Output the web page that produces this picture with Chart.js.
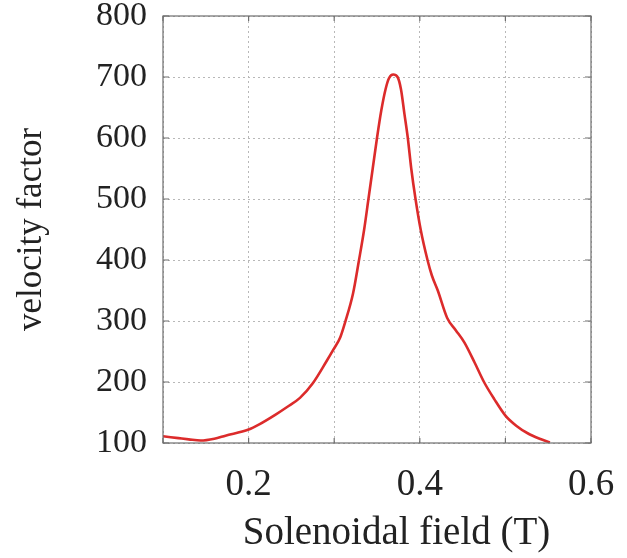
<!DOCTYPE html>
<html>
<head>
<meta charset="utf-8">
<script src="https://cdn.jsdelivr.net/npm/chart.js@4"></script>
<style>
  html, body { margin: 0; padding: 0; background: #fff; }
  #wrap { width: 627px; height: 558px; }
</style>
</head>
<body>
<div id="wrap"><canvas id="fieldChart" width="627" height="558"></canvas></div>
<script>
// solenoidal field (T) and velocity factor
const fieldT = [0.100, 0.118, 0.130, 0.144, 0.160, 0.173, 0.200, 0.213, 0.232, 0.245,
    0.260, 0.275, 0.291, 0.299, 0.307, 0.313, 0.322, 0.329, 0.335, 0.340,
    0.345, 0.350, 0.355, 0.360, 0.364, 0.369, 0.374, 0.378, 0.382, 0.386,
    0.390, 0.395, 0.401, 0.409, 0.414, 0.421, 0.432, 0.442, 0.452, 0.464,
    0.475, 0.487, 0.500, 0.513, 0.526, 0.540, 0.552];
const velocityFactor = [111, 108, 106, 104, 107, 112, 122, 131, 147, 159,
    174, 198, 234, 253, 273, 299, 345, 400, 450, 500,
    550, 600, 645, 680, 698, 704, 700, 680, 640, 600,
    550, 500, 450, 400, 375, 350, 305, 285, 265, 232,
    200, 172, 145, 128, 116, 107, 101];
const xTicks = [0.1, 0.2, 0.3, 0.4, 0.5, 0.6];
const xLabelled = [0.2, 0.4, 0.6];
const yTicks = [100, 200, 300, 400, 500, 600, 700, 800];

const serif = "'Liberation Serif', 'Times New Roman', serif";
const textColor = '#222';

// frame round the plot with small inward ticks, like the original
const framePlugin = {
    id: 'frame',
    afterDraw(chart) {
        const ctx = chart.ctx;
        const a = chart.chartArea;
        const xs = chart.scales.x, ys = chart.scales.y;
        ctx.save();
        ctx.strokeStyle = '#6e6e6e';
        ctx.lineWidth = 1.2;
        ctx.strokeRect(a.left, a.top, a.right - a.left, a.bottom - a.top);
        ctx.beginPath();
        xTicks.forEach(v => {
            const px = xs.getPixelForValue(v);
            ctx.moveTo(px, a.bottom); ctx.lineTo(px, a.bottom - 5);
            ctx.moveTo(px, a.top); ctx.lineTo(px, a.top + 5);
        });
        yTicks.forEach(v => {
            const py = ys.getPixelForValue(v);
            ctx.moveTo(a.left, py); ctx.lineTo(a.left + 6, py);
            ctx.moveTo(a.right, py); ctx.lineTo(a.right - 6, py);
        });
        ctx.stroke();
        ctx.restore();
    }
};

const ctx = document.getElementById('fieldChart').getContext('2d');
const fieldChart = new Chart(ctx, {
    type: 'line',
    data: {
        datasets: [{
            data: fieldT.map((x, i) => ({ x: x, y: velocityFactor[i] })),
            borderColor: '#dc2b2b',
            borderWidth: 2.6,
            pointRadius: 0,
            cubicInterpolationMode: 'monotone',
            fill: false,
        }],
    },
    options: {
        responsive: false,
        animation: false,
        layout: { padding: { left: 11, right: 36, top: 16, bottom: 9 } },
        plugins: {
            legend: { display: false },
            tooltip: { enabled: false },
        },
        scales: {
            x: {
                type: 'linear',
                min: 0.1,
                max: 0.6,
                afterBuildTicks: axis => { axis.ticks = xTicks.map(v => ({ value: v })); },
                // let the labels overhang, the plot area comes from layout padding
                afterFit: axis => {
                    axis.paddingLeft = 0;
                    axis.paddingRight = 0;
                    axis.height = 106;
                },
                ticks: {
                    color: textColor,
                    font: { family: serif, size: 37, lineHeight: 0.65 },
                    padding: 30,
                    maxRotation: 0,
                    autoSkip: false,
                    callback: v => xLabelled.some(t => Math.abs(t - v) < 1e-6) ? v.toFixed(1) : '',
                },
                grid: { color: '#b8b8b8', lineWidth: 1, drawTicks: false },
                border: { display: false, dash: [2, 3] },
                title: {
                    display: true,
                    text: '    Solenoidal field (T)',
                    color: textColor,
                    font: { family: serif, size: 39, lineHeight: 0.76 },
                    padding: { top: 0, bottom: 0 },
                },
            },
            y: {
                min: 100,
                max: 800,
                afterBuildTicks: axis => { axis.ticks = yTicks.map(v => ({ value: v })); },
                afterFit: axis => { axis.paddingTop = 0; axis.paddingBottom = 0; },
                ticks: {
                    color: textColor,
                    font: { family: serif, size: 34 },
                    padding: 16,
                },
                grid: { color: '#b8b8b8', lineWidth: 1, drawTicks: false },
                border: { display: false, dash: [2, 3] },
                title: {
                    display: true,
                    text: 'velocity factor',
                    color: textColor,
                    font: { family: serif, size: 35 },
                    padding: { top: 0, bottom: 27 },
                },
            },
        },
    },
    plugins: [framePlugin],
});
</script>
</body>
</html>
